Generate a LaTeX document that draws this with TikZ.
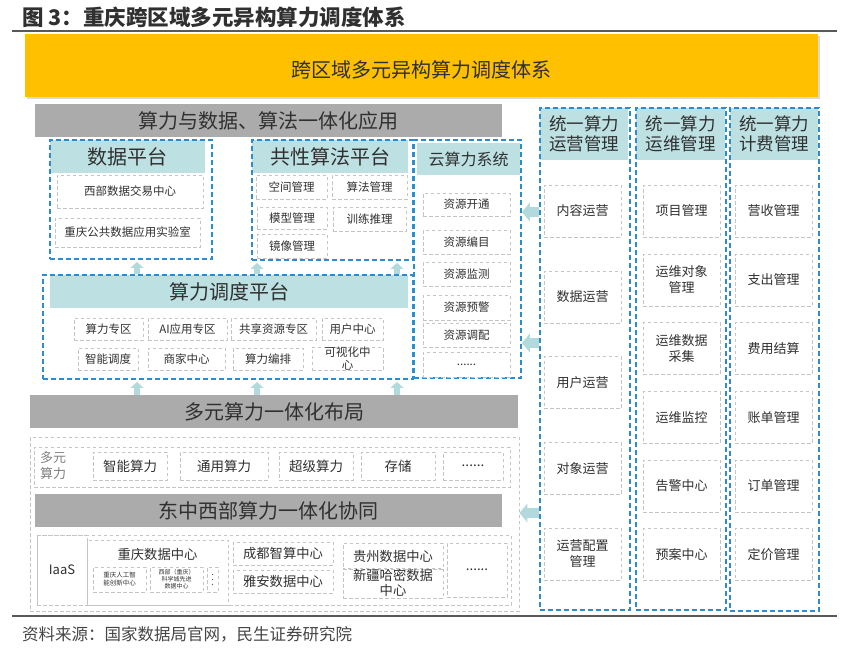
\documentclass[tikz,border=0pt]{standalone}
\usepackage{fontspec}
\setmainfont{Noto Sans CJK SC}
\usepackage{tikz}
\usepackage{xcolor}
\usetikzlibrary{arrows.meta, shadows}

\definecolor{barYellow}{HTML}{FFC000}
\definecolor{barGray}{HTML}{ABABAB}
\definecolor{headTeal}{HTML}{BDE1E3}
\definecolor{lineBlue}{HTML}{2E8BCC}
\definecolor{lineGray}{HTML}{C4C4C4}
\definecolor{arrowTeal}{HTML}{B2DADC}
\definecolor{textDark}{HTML}{303030}
\definecolor{labelGray}{HTML}{7F7F7F}
\definecolor{ruleGray}{HTML}{595959}

\newcommand{\fsize}[2]{\fontsize{#1}{#2}\selectfont}

\begin{document}
\begin{tikzpicture}[x=1pt, y=-1pt,
    every node/.style={text=textDark, inner sep=0pt, align=center},
    sz/.style 2 args={minimum width=#1pt, minimum height=#2pt},
    bluebox/.style={draw=lineBlue, line width=1.8pt, dash pattern=on 5pt off 3pt},
    graybox/.style={draw=lineGray, line width=0.9pt, dash pattern=on 3.5pt off 2.5pt},
    head/.style={fill=headTeal},
    bar/.style={fill=barGray, font=\fsize{20}{24}},
    item/.style={graybox, font=\fsize{11.5}{13}},
    opsitem/.style={graybox, sz={77}{52}, font=\fsize{13}{16}},
    uparrow/.style={arrowTeal, line width=6pt, shorten >=2pt,
        -{Triangle[length=6pt, width=13pt, line width=0pt]}},
    leftarrow/.style={arrowTeal, line width=10pt,
        -{Triangle[length=8pt, width=19pt, line width=0pt]}}]
        \useasboundingbox (0,0) rectangle (849,654);

        \node[anchor=west, text=textDark, font=\bfseries\fsize{21.5}{24}] (title) at (22,17) {图 3：重庆跨区域多元异构算力调度体系};
        \draw[ruleGray, line width=1.5pt] (12,31) -- (837,31);

        \node[fill=barYellow, sz={793}{63},
              drop shadow={shadow xshift=1.5pt, shadow yshift=-1.5pt, opacity=0.3}] (system) at (421.5,65.5) {};
        \node[font=\fsize{20}{24}] (systemtitle) at ([yshift=-4pt]system.center) {跨区域多元异构算力调度体系};

        \node[bar, sz={467}{33}] (apply) at (268.5,120.5) {算力与数据、算法一体化应用};

        \node[head, sz={155}{33}, font=\fsize{20}{24}] (datahead) at (127.5,156.5) {数据平台};
        \node[bluebox, sz={162}{119}] (data) at (131,199.5) {};
        \node[item, sz={146}{33}] (trade) at (130,191.5) {西部数据交易中心};
        \node[item, sz={145}{29}] (lab) at (127.5,232.5) {重庆公共数据应用实验室};

        \node[head, sz={156}{33}, font=\fsize{20}{24}] (algohead) at (330,156.5) {共性算法平台};
        \node[bluebox, sz={161}{120}] (algo) at (332.5,200) {};
        \node[item, sz={71}{24}] (space) at (291.5,187) {空间管理};
        \node[item, sz={75}{24}] (algmgr) at (369.5,187) {算法管理};
        \node[item, sz={70}{22}] (model) at (292,218) {模型管理};
        \node[item, sz={73}{24}] (train) at (369.5,219) {训练推理};
        \node[item, sz={70}{24}] (mirror) at (292,246) {镜像管理};

        \node[head, sz={103}{32}, font=\fsize{16}{19}] (cloudhead) at (468.5,159) {云算力系统};
        \node[bluebox, sz={107}{238}] (cloud) at (467.5,259) {};
        \node[item, sz={87}{23}] (open) at (466.5,204.5) {资源开通};
        \node[item, sz={87}{24}] (catalog) at (466.5,242) {资源编目};
        \node[item, sz={87}{24}] (monitor) at (466.5,274) {资源监测};
        \node[item, sz={87}{25}] (warn) at (466.5,307.5) {资源预警};
        \node[item, sz={87}{24}] (alloc) at (466.5,335) {资源调配};
        \node[item, sz={87}{25}] (cloudmore) at (466.5,364.5) {......};

        \node[head, sz={358}{33}, font=\fsize{20}{24}] (schedhead) at (229,291.5) {算力调度平台};
        \node[bluebox, sz={370}{104}] (sched) at (228,327) {};
        \node[item, sz={69}{22}] (zone) at (108.5,329) {算力专区};
        \node[item, sz={79}{22}] (aizone) at (187.5,329) {AI应用专区};
        \node[item, sz={85}{22}] (share) at (273.5,329) {共享资源专区};
        \node[item, sz={61}{22}] (user) at (352.5,329) {用户中心};
        \node[item, sz={60}{22}] (smart) at (108,359) {智能调度};
        \node[item, sz={77}{22}] (merchant) at (186.5,359) {商家中心};
        \node[item, sz={70}{22}] (orch) at (268,359) {算力编排};
        \node[item, sz={71}{22}] (visual) at (347.5,359) {可视化中\\心};

        \node[bar, sz={488}{33}] (layout) at (274,411.5) {多元算力一体化布局};
        \node[graybox, sz={489}{174}] (base) at (274.5,524) {};
        \node[graybox, sz={476}{40}] (kinds) at (272,467) {};
        \node[text=labelGray, font=\fsize{13}{16}] (kindlabel) at (53,466) {多元\\算力};
        \node[graybox, sz={74}{28}, font=\fsize{13.5}{16}] (ai) at (130,466) {智能算力};
        \node[graybox, sz={88}{28}, font=\fsize{13.5}{16}] (general) at (224,466) {通用算力};
        \node[graybox, sz={74}{28}, font=\fsize{13.5}{16}] (super) at (316,466) {超级算力};
        \node[graybox, sz={74}{28}, font=\fsize{13.5}{16}] (storage) at (398,466) {存储};
        \node[graybox, sz={60}{28}, font=\fsize{13.5}{16}] (kindmore) at (473,466) {......};

        \node[bar, sz={467}{33}] (coop) at (268.5,510.5) {东中西部算力一体化协同};
        \node[graybox, sz={474}{70}] (iaasrow) at (274,570) {};
        \node[graybox, sz={50}{70}, font=\fsize{13}{16}] (iaas) at (62,570) {IaaS};
        \node[graybox, sz={141}{65}] (cqdc) at (157.5,572.5) {};
        \node[font=\fsize{13.3}{16}] (cqdctitle) at (157.5,554) {重庆数据中心};
        \node[graybox, sz={53}{25}, font=\fsize{6.5}{8}] (cqai) at (119.5,579.5) {重庆人工智\\能创新中心};
        \node[graybox, sz={53}{25}, font=\fsize{6}{7}] (cqsci) at (176.5,579.5) {西部（重庆）\\科学城先进\\数据中心};
        \node[graybox, sz={11}{25}] (cqmore) at (212.5,579.5) {};
        \fill[textDark!80] (cqmore.center) circle (0.7pt);
        \fill[textDark!80] ([yshift=5pt]cqmore.center) circle (0.7pt);
        \fill[textDark!80] ([yshift=-5pt]cqmore.center) circle (0.7pt);
        \node[graybox, sz={100}{23}, font=\fsize{13.3}{16}] (chengdu) at (283,553.5) {成都智算中心};
        \node[graybox, sz={100}{23}, font=\fsize{13.3}{16}] (yaan) at (283,581.5) {雅安数据中心};
        \node[graybox, sz={100}{26}, font=\fsize{13.3}{16}] (guizhou) at (393,556) {贵州数据中心};
        \node[graybox, sz={100}{30}, font=\fsize{13.3}{15}] (hami) at (393,583) {新疆哈密数据\\中心};
        \node[graybox, sz={60}{54}, font=\fsize{13.3}{16}] (dcmore) at (477,570) {......};

        \node[head, sz={88}{52}, font=\fsize{17.5}{20}] (opshead) at (584,134) {统一算力\\运营管理};
        \node[bluebox, sz={90}{502}] (ops) at (585,359) {};
        \node[opsitem] (content) at (582.5,211) {内容运营};
        \node[opsitem] (dataops) at (582.5,297) {数据运营};
        \node[opsitem] (userops) at (582.5,382.5) {用户运营};
        \node[opsitem] (objops) at (582.5,468.5) {对象运营};
        \node[opsitem] (cfgops) at (582.5,554) {运营配置\\管理};

        \node[head, sz={89}{52}, font=\fsize{17.5}{20}] (mainthead) at (680.5,134) {统一算力\\运维管理};
        \node[bluebox, sz={90}{502}] (maint) at (681,359) {};
        \node[opsitem] (project) at (681.5,211) {项目管理};
        \node[opsitem] (target) at (681.5,280) {运维对象\\管理};
        \node[opsitem] (collect) at (681.5,348.5) {运维数据\\采集};
        \node[opsitem] (watch) at (681.5,417.5) {运维监控};
        \node[opsitem] (alarm) at (681.5,486) {告警中心};
        \node[opsitem] (plan) at (681.5,554.5) {预案中心};

        \node[head, sz={88}{52}, font=\fsize{17.5}{20}] (billhead) at (774,134) {统一算力\\计费管理};
        \node[bluebox, sz={89}{503}] (billing) at (774.5,359.5) {};
        \node[opsitem] (revenue) at (773.5,211) {营收管理};
        \node[opsitem] (expense) at (773.5,280) {支出管理};
        \node[opsitem] (settle) at (773.5,348.5) {费用结算};
        \node[opsitem] (bill) at (773.5,417.5) {账单管理};
        \node[opsitem] (order) at (773.5,486) {订单管理};
        \node[opsitem] (price) at (773.5,554.5) {定价管理};

        \coordinate (ua) at (137,0);
        \coordinate (ub) at (257,0);
        \coordinate (uc) at (397,0);
        \draw[uparrow] (ua |- sched.north) -- (ua |- data.south);
        \draw[uparrow] (ub |- sched.north) -- (ub |- algo.south);
        \draw[uparrow] (uc |- sched.north) -- (uc |- algo.south);
        \draw[uparrow] (ua |- layout.north) -- (ua |- sched.south);
        \draw[uparrow] (ub |- layout.north) -- (ub |- sched.south);
        \draw[uparrow] (uc |- layout.north) -- (uc |- sched.south);

        \coordinate (la) at (0,212);
        \coordinate (lb) at (0,343);
        \coordinate (lc) at (0,513);
        \draw[leftarrow] (la -| ops.west) -- (la -| cloud.east);
        \draw[leftarrow] (lb -| ops.west) -- (lb -| cloud.east);
        \draw[leftarrow] (lc -| ops.west) -- (lc -| base.east);

        \draw[ruleGray, line width=2pt] (12,616) -- (837,616);
        \node[anchor=west, text=textDark!90, font=\fsize{16.5}{20}] (source) at (22,634) {资料来源：国家数据局官网，民生证券研究院};
    \end{tikzpicture}
\end{document}
